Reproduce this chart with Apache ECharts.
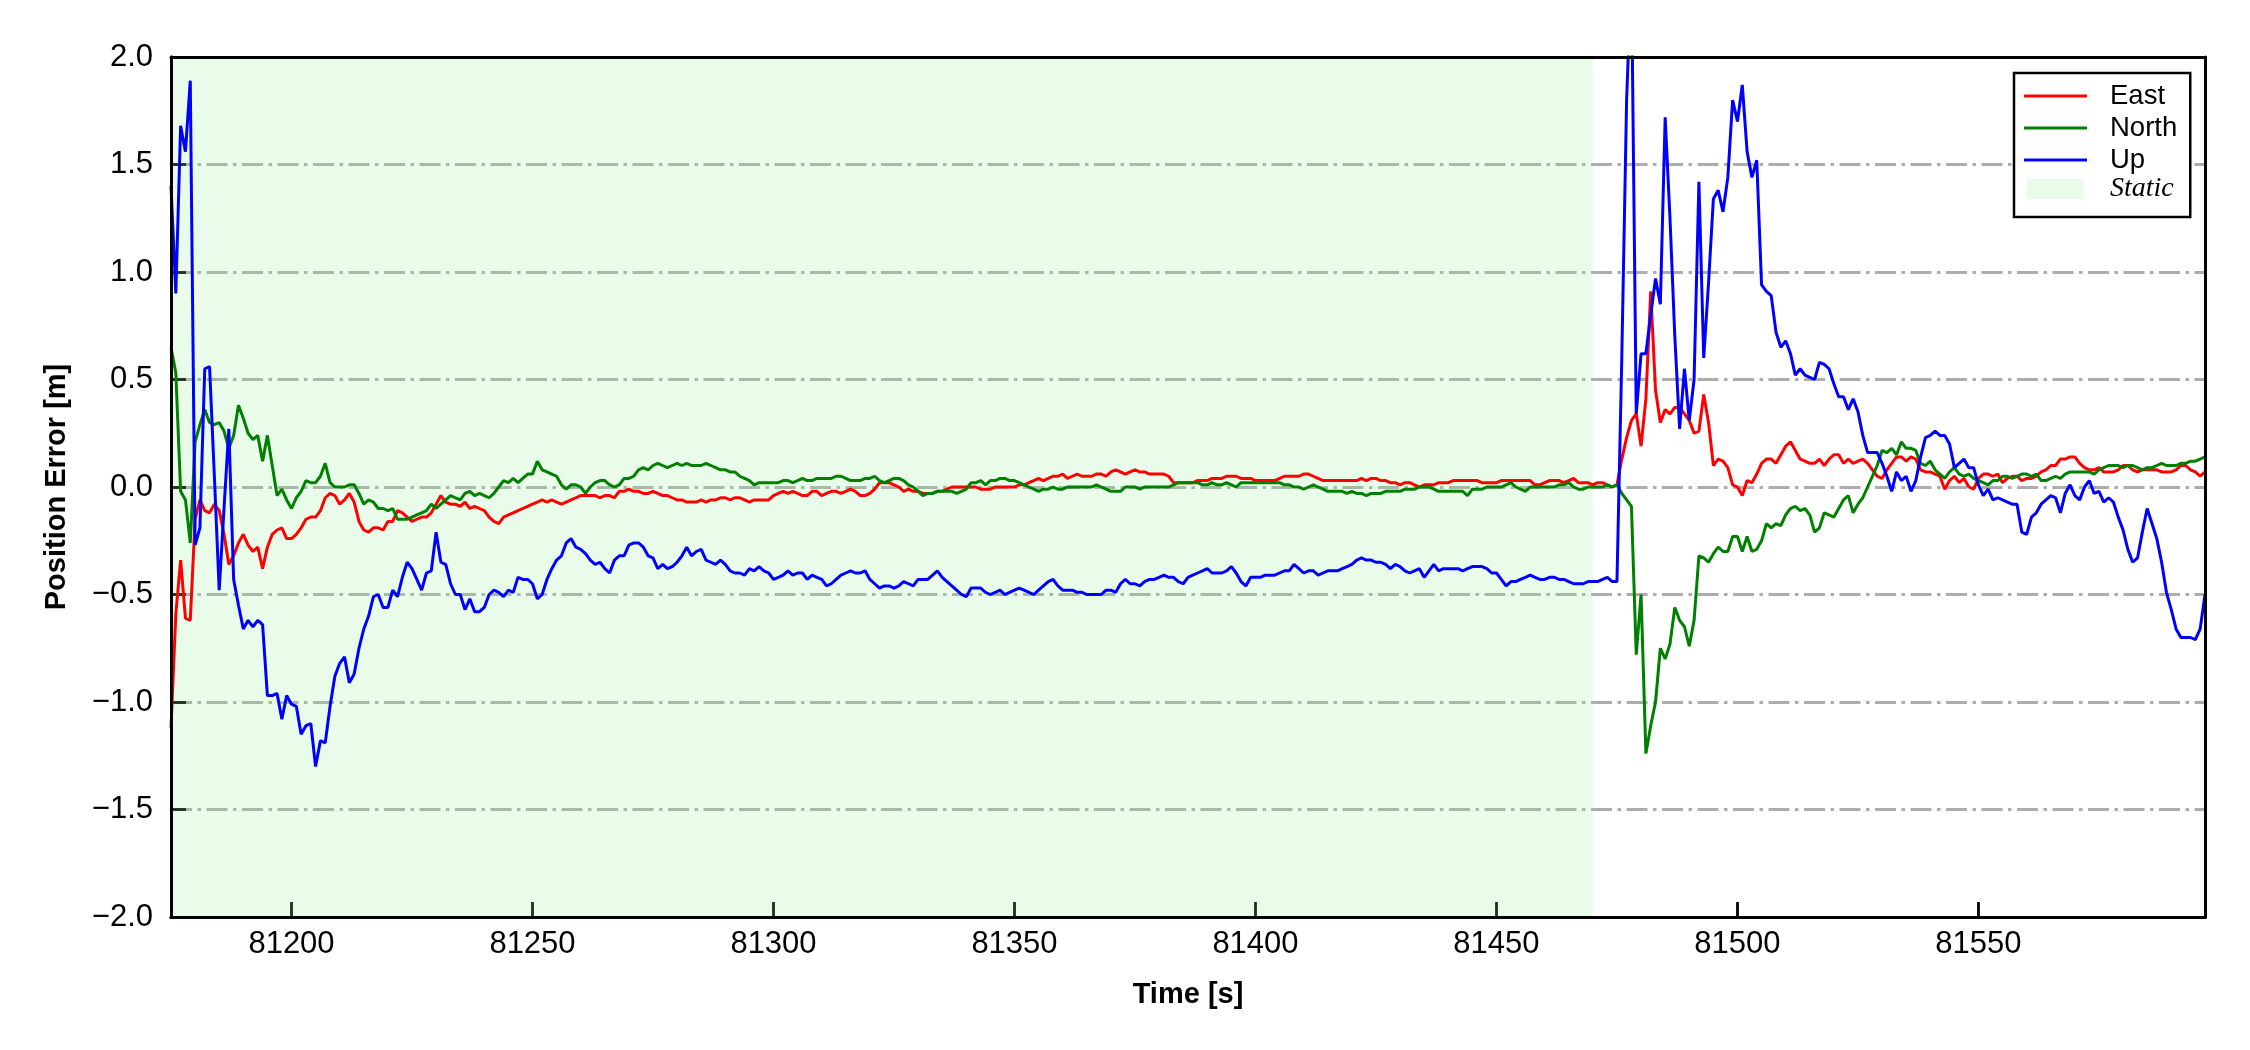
<!DOCTYPE html>
<html>
<head>
<meta charset="utf-8">
<script src="https://cdn.jsdelivr.net/npm/echarts@6/dist/echarts.min.js"></script>
<style>
  html, body { margin: 0; padding: 0; background: #ffffff; }
  #chart { width: 2250px; height: 1050px; }
</style>
</head>
<body>
<div id="chart"></div>
<script>
// ---- Data (1 s sampling starting at timeStart) ----
const timeStart = 81175;
const staticEnd = 81470;
const xMin = 81175;
const xMax = 81597;
const xTicks = [81200, 81250, 81300, 81350, 81400, 81450, 81500, 81550];
const yTicksMin = -2.0, yTicksMax = 2.0, yStep = 0.5;

// East, 81175-81274
const eastA = [-1.12,-0.59,-0.34,-0.61,-0.62,-0.15,-0.06,-0.11,-0.12,-0.08,
 -0.11,-0.22,-0.36,-0.32,-0.26,-0.22,-0.27,-0.30,-0.28,-0.38,
 -0.28,-0.22,-0.20,-0.19,-0.24,-0.24,-0.22,-0.19,-0.15,-0.14,
 -0.14,-0.11,-0.05,-0.03,-0.04,-0.08,-0.06,-0.03,-0.07,-0.16,
 -0.20,-0.21,-0.19,-0.19,-0.20,-0.16,-0.16,-0.11,-0.12,-0.14,
 -0.16,-0.15,-0.14,-0.14,-0.12,-0.08,-0.04,-0.07,-0.08,-0.08,
 -0.09,-0.07,-0.10,-0.09,-0.10,-0.11,-0.14,-0.16,-0.17,-0.14,
 -0.13,-0.12,-0.11,-0.10,-0.09,-0.08,-0.07,-0.06,-0.07,-0.06,
 -0.07,-0.08,-0.07,-0.06,-0.05,-0.04,-0.04,-0.04,-0.04,-0.05,
 -0.04,-0.04,-0.05,-0.02,-0.02,-0.01,-0.02,-0.02,-0.03,-0.03];
// East, 81275-81348
const eastB = [-0.02,-0.03,-0.04,-0.04,-0.05,-0.06,-0.06,-0.07,-0.07,-0.07,
 -0.06,-0.07,-0.06,-0.06,-0.05,-0.05,-0.06,-0.05,-0.05,-0.06,
 -0.07,-0.06,-0.06,-0.06,-0.06,-0.04,-0.03,-0.02,-0.03,-0.02,
 -0.03,-0.04,-0.04,-0.02,-0.02,-0.04,-0.03,-0.02,-0.02,-0.03,
 -0.02,-0.01,-0.02,-0.04,-0.04,-0.03,-0.01,0.02,0.02,0.02,
 0.01,0.00,-0.02,-0.01,-0.02,-0.02,-0.03,-0.03,-0.03,-0.02,
 -0.02,-0.01,0.00,0.00,0.00,0.00,0.00,0.00,-0.01,-0.01,
 -0.01,0.00,0.00,0.00];
// East, 81349-81469
const eastC = [0.00,0.00,0.01,0.01,0.02,0.03,0.04,0.03,0.04,0.05,
 0.05,0.06,0.04,0.05,0.06,0.05,0.05,0.05,0.06,0.06,
 0.05,0.07,0.08,0.07,0.06,0.07,0.08,0.07,0.07,0.06,
 0.06,0.06,0.06,0.05,0.02,0.02,0.02,0.02,0.02,0.03,
 0.03,0.03,0.04,0.04,0.04,0.05,0.05,0.05,0.04,0.04,
 0.04,0.03,0.03,0.03,0.03,0.03,0.04,0.05,0.05,0.05,
 0.05,0.06,0.06,0.05,0.04,0.03,0.03,0.03,0.03,0.03,
 0.03,0.03,0.03,0.04,0.03,0.04,0.04,0.03,0.03,0.02,
 0.02,0.01,0.02,0.02,0.01,0.00,0.01,0.01,0.01,0.02,
 0.02,0.02,0.03,0.03,0.03,0.03,0.03,0.03,0.02,0.02,
 0.02,0.02,0.03,0.03,0.03,0.03,0.03,0.03,0.03,0.01,
 0.01,0.02,0.03,0.03,0.03,0.02,0.03,0.04,0.02,0.02,
 0.02];
// East, 81470-81533
const eastD = [0.01,0.02,0.02,0.01,0.00,0.01,0.13,0.23,0.31,0.34,
 0.19,0.41,0.91,0.45,0.30,0.36,0.34,0.37,0.37,0.34,
 0.31,0.25,0.26,0.43,0.30,0.10,0.13,0.12,0.09,0.01,
 0.00,-0.04,0.03,0.02,0.06,0.11,0.13,0.13,0.11,0.15,
 0.19,0.21,0.17,0.13,0.12,0.11,0.11,0.13,0.10,0.13,
 0.15,0.15,0.11,0.13,0.11,0.12,0.13,0.11,0.08,0.05,
 0.04,0.08,0.11,0.14];
// East, 81534-81597
const eastE = [0.14,0.12,0.14,0.13,0.08,0.07,0.07,0.06,0.05,-0.01,
 0.03,0.05,0.02,0.04,0.00,-0.01,0.04,0.06,0.06,0.05,
 0.06,0.02,0.04,0.05,0.05,0.03,0.04,0.04,0.05,0.07,
 0.08,0.10,0.10,0.13,0.13,0.14,0.14,0.11,0.09,0.08,
 0.08,0.09,0.07,0.07,0.07,0.08,0.10,0.10,0.08,0.07,
 0.08,0.08,0.08,0.08,0.07,0.07,0.07,0.08,0.10,0.10,
 0.08,0.07,0.05,0.07];

// North
const northA = [0.65,0.53,-0.02,-0.06,-0.26,0.21,0.29,0.36,0.30,0.29,
 0.30,0.26,0.18,0.24,0.38,0.32,0.25,0.22,0.24,0.12,
 0.24,0.10,-0.04,-0.01,-0.06,-0.10,-0.05,-0.02,0.03,0.02,
 0.02,0.05,0.11,0.02,0.00,0.00,0.00,0.01,0.01,-0.03,
 -0.08,-0.06,-0.07,-0.10,-0.10,-0.11,-0.10,-0.15,-0.15,-0.15,
 -0.14,-0.13,-0.12,-0.11,-0.08,-0.10,-0.08,-0.06,-0.04,-0.05,
 -0.06,-0.03,-0.02,-0.04,-0.03,-0.04,-0.05,-0.03,0.00,0.03,
 0.02,0.04,0.02,0.04,0.06,0.06,0.12,0.08,0.07,0.06,
 0.05,0.01,-0.01,0.01,0.01,0.00,-0.03,0.00,0.02,0.03,
 0.03,0.01,0.00,0.01,0.04,0.04,0.05,0.08,0.09,0.08];
const northB = [0.10,0.11,0.10,0.09,0.10,0.11,0.10,0.11,0.10,0.10,
 0.10,0.11,0.10,0.09,0.08,0.08,0.07,0.07,0.05,0.04,
 0.03,0.01,0.02,0.02,0.02,0.02,0.02,0.03,0.03,0.02,
 0.03,0.04,0.03,0.03,0.04,0.04,0.04,0.04,0.05,0.05,
 0.04,0.03,0.03,0.03,0.04,0.04,0.05,0.03,0.02,0.03,
 0.04,0.04,0.03,0.01,0.00,-0.02,-0.04,-0.03,-0.03,-0.02,
 -0.02,-0.02,-0.02,-0.03,-0.02,-0.01,0.02,0.02,0.03,0.01,
 0.03,0.03,0.04,0.04];
const northC = [0.03,0.03,0.02,0.01,0.00,-0.01,-0.02,-0.01,-0.01,0.00,
 -0.01,-0.01,0.00,0.00,0.00,0.00,0.00,0.00,0.01,0.00,
 -0.01,-0.02,-0.02,-0.02,0.00,0.00,0.00,-0.01,0.00,0.00,
 0.00,0.00,0.00,0.00,0.01,0.02,0.02,0.02,0.02,0.02,
 0.01,0.01,0.02,0.01,0.01,0.02,0.01,0.00,0.02,0.02,
 0.02,0.02,0.02,0.02,0.02,0.02,0.02,0.01,0.01,0.00,
 0.00,-0.01,0.00,0.01,0.00,-0.01,-0.02,-0.02,-0.02,-0.02,
 -0.03,-0.02,-0.03,-0.03,-0.04,-0.03,-0.03,-0.03,-0.02,-0.02,
 -0.02,-0.02,-0.01,-0.01,-0.01,0.00,0.00,0.00,-0.01,-0.02,
 -0.02,-0.02,-0.02,-0.02,-0.02,-0.04,-0.01,-0.01,-0.01,0.00,
 0.00,0.00,0.00,0.01,0.02,0.00,-0.01,-0.02,0.00,0.00,
 0.00,0.00,0.00,0.00,0.01,0.01,0.02,0.00,-0.01,-0.01,
 0.00];
const northD = [0.00,0.00,0.00,0.01,0.00,0.01,-0.03,-0.06,-0.09,-0.78,
 -0.50,-1.24,-1.11,-1.00,-0.75,-0.80,-0.73,-0.56,-0.62,-0.65,
 -0.74,-0.62,-0.32,-0.33,-0.35,-0.31,-0.28,-0.30,-0.30,-0.23,
 -0.23,-0.30,-0.23,-0.30,-0.29,-0.25,-0.17,-0.19,-0.17,-0.18,
 -0.13,-0.10,-0.09,-0.11,-0.10,-0.13,-0.21,-0.19,-0.12,-0.13,
 -0.14,-0.10,-0.06,-0.04,-0.12,-0.08,-0.05,0.00,0.05,0.10,
 0.17,0.16,0.18,0.15];
const northE = [0.21,0.18,0.18,0.17,0.11,0.10,0.12,0.08,0.06,0.04,
 0.07,0.09,0.06,0.05,0.06,0.04,0.03,0.02,0.01,0.03,
 0.03,0.05,0.05,0.04,0.05,0.06,0.06,0.05,0.06,0.03,
 0.03,0.04,0.05,0.04,0.06,0.07,0.07,0.07,0.07,0.07,
 0.06,0.08,0.09,0.10,0.10,0.10,0.09,0.10,0.10,0.09,
 0.08,0.09,0.09,0.10,0.11,0.10,0.10,0.10,0.11,0.11,
 0.12,0.12,0.13,0.14];

// Up
const upA = [1.40,0.90,1.68,1.56,1.89,-0.27,-0.19,0.55,0.56,0.05,
 -0.48,-0.10,0.27,-0.43,-0.55,-0.66,-0.62,-0.65,-0.62,-0.64,
 -0.97,-0.97,-0.96,-1.08,-0.97,-1.01,-1.02,-1.15,-1.11,-1.10,
 -1.30,-1.18,-1.19,-1.02,-0.88,-0.82,-0.79,-0.91,-0.87,-0.75,
 -0.66,-0.60,-0.51,-0.50,-0.56,-0.56,-0.48,-0.51,-0.42,-0.35,
 -0.38,-0.43,-0.48,-0.40,-0.39,-0.21,-0.35,-0.36,-0.45,-0.50,
 -0.50,-0.57,-0.52,-0.58,-0.58,-0.56,-0.50,-0.48,-0.49,-0.51,
 -0.48,-0.49,-0.42,-0.43,-0.43,-0.45,-0.52,-0.50,-0.43,-0.38,
 -0.34,-0.32,-0.26,-0.24,-0.28,-0.29,-0.31,-0.34,-0.36,-0.35,
 -0.38,-0.40,-0.34,-0.32,-0.32,-0.27,-0.26,-0.26,-0.28,-0.32];
const upB = [-0.33,-0.38,-0.36,-0.38,-0.37,-0.35,-0.32,-0.28,-0.32,-0.30,
 -0.29,-0.34,-0.35,-0.36,-0.34,-0.36,-0.39,-0.40,-0.40,-0.41,
 -0.38,-0.39,-0.37,-0.39,-0.40,-0.43,-0.42,-0.41,-0.39,-0.41,
 -0.40,-0.40,-0.43,-0.41,-0.42,-0.43,-0.46,-0.45,-0.43,-0.41,
 -0.40,-0.39,-0.40,-0.40,-0.39,-0.43,-0.45,-0.47,-0.46,-0.46,
 -0.47,-0.46,-0.44,-0.45,-0.46,-0.43,-0.43,-0.43,-0.41,-0.39,
 -0.42,-0.44,-0.46,-0.48,-0.50,-0.51,-0.47,-0.47,-0.47,-0.49,
 -0.50,-0.49,-0.48,-0.50];
const upC = [-0.49,-0.48,-0.47,-0.48,-0.49,-0.50,-0.48,-0.46,-0.44,-0.43,
 -0.46,-0.48,-0.48,-0.48,-0.49,-0.49,-0.50,-0.50,-0.50,-0.50,
 -0.48,-0.48,-0.49,-0.45,-0.43,-0.45,-0.45,-0.46,-0.44,-0.43,
 -0.43,-0.42,-0.41,-0.42,-0.42,-0.44,-0.45,-0.42,-0.41,-0.40,
 -0.39,-0.38,-0.40,-0.40,-0.40,-0.39,-0.37,-0.40,-0.44,-0.46,
 -0.42,-0.42,-0.42,-0.41,-0.41,-0.41,-0.40,-0.39,-0.39,-0.36,
 -0.38,-0.40,-0.39,-0.39,-0.41,-0.40,-0.39,-0.39,-0.39,-0.38,
 -0.37,-0.36,-0.34,-0.33,-0.34,-0.34,-0.35,-0.35,-0.36,-0.38,
 -0.36,-0.37,-0.39,-0.40,-0.39,-0.38,-0.42,-0.39,-0.36,-0.39,
 -0.38,-0.38,-0.38,-0.38,-0.39,-0.38,-0.37,-0.37,-0.37,-0.38,
 -0.40,-0.40,-0.43,-0.46,-0.44,-0.44,-0.43,-0.42,-0.41,-0.42,
 -0.43,-0.43,-0.42,-0.42,-0.43,-0.43,-0.44,-0.45,-0.45,-0.45,
 -0.44];
const upD = [-0.44,-0.44,-0.43,-0.42,-0.44,-0.44,0.60,1.80,2.40,0.34,
 0.62,0.62,0.80,0.97,0.85,1.72,1.25,0.70,0.27,0.55,
 0.31,0.50,1.42,0.60,0.95,1.34,1.38,1.28,1.44,1.80,
 1.70,1.87,1.56,1.44,1.52,0.94,0.91,0.89,0.72,0.65,
 0.68,0.62,0.52,0.55,0.52,0.51,0.50,0.58,0.57,0.55,
 0.48,0.42,0.42,0.36,0.41,0.35,0.24,0.16,0.16,0.16,
 0.11,0.05,-0.02,0.07];
const upE = [0.03,0.05,-0.02,0.03,0.14,0.23,0.24,0.26,0.24,0.24,
 0.20,0.09,0.11,0.13,0.09,0.09,0.01,-0.04,-0.01,-0.06,
 -0.05,-0.06,-0.07,-0.08,-0.08,-0.21,-0.22,-0.14,-0.12,-0.08,
 -0.06,-0.04,-0.05,-0.12,-0.03,0.01,-0.04,-0.06,0.00,0.03,
 -0.03,-0.02,-0.07,-0.05,-0.07,-0.14,-0.20,-0.29,-0.35,-0.33,
 -0.21,-0.10,-0.17,-0.24,-0.35,-0.49,-0.57,-0.66,-0.70,-0.70,
 -0.70,-0.71,-0.66,-0.50];

// ---- Build ----
const east = eastA.concat(eastB, eastC, eastD, eastE);
const north = northA.concat(northB, northC, northD, northE);
const up = upA.concat(upB, upC, upD, upE);
const toPairs = arr => arr.map((v, i) => [timeStart + i, v]);

const FONT = "'Liberation Sans', Arial, Helvetica, sans-serif";
const fmtY = v => { const s = Number(v).toFixed(1); return s.charAt(0) === '-' ? '\u2212' + s.slice(1) : s; };
const fmtX = v => String(Math.round(v));

const frameLine = { show: true, onZero: false, lineStyle: { color: '#000', width: 3 } };
const tickStyle = { color: '#000', width: 2.8 };
const frameAxisCommon = {
  axisTick: { show: false }, axisLabel: { show: false }, splitLine: { show: false },
  axisLine: frameLine, z: 5
};

const chart = echarts.init(document.getElementById('chart'), null, { renderer: 'canvas' });
chart.setOption({
  animation: false,
  backgroundColor: '#ffffff',
  grid: { left: 171, right: 45, top: 57, bottom: 133, containLabel: false },
  xAxis: [
    {
      type: 'value', min: xMin, max: xMax, position: 'bottom',
      name: 'Time [s]', nameLocation: 'middle', nameGap: 63,
      nameTextStyle: { fontFamily: FONT, fontWeight: 'bold', fontSize: 29, color: '#000' },
      axisLine: frameLine,
      axisTick: { show: true, inside: true, length: 15, customValues: xTicks, lineStyle: tickStyle },
      axisLabel: { show: true, customValues: xTicks, margin: 12, fontFamily: FONT, fontSize: 31, color: '#000', formatter: fmtX },
      splitLine: { show: false }
    },
    Object.assign({ type: 'value', min: xMin, max: xMax, position: 'top' }, frameAxisCommon),
    Object.assign({ type: 'value', min: xMin, max: xMax, position: 'bottom' }, frameAxisCommon)
  ],
  yAxis: [
    {
      type: 'value', min: yTicksMin, max: yTicksMax, interval: yStep, position: 'left',
      name: 'Position Error [m]', nameLocation: 'middle', nameGap: 100,
      nameTextStyle: { fontFamily: FONT, fontWeight: 'bold', fontSize: 29, color: '#000' },
      axisLine: frameLine,
      axisTick: { show: true, inside: true, length: 15, lineStyle: tickStyle },
      axisLabel: { show: true, margin: 18, fontFamily: FONT, fontSize: 31, color: '#000', formatter: fmtY },
      splitLine: { show: true, lineStyle: { color: '#adadad', width: 2.8, type: [21, 5.5, 3.5, 5.5] } }
    },
    Object.assign({ type: 'value', min: yTicksMin, max: yTicksMax, position: 'right' }, frameAxisCommon),
    Object.assign({ type: 'value', min: yTicksMin, max: yTicksMax, position: 'left' }, frameAxisCommon)
  ],
  legend: [
    {
      show: true, orient: 'vertical', left: 2014, top: 73,
      selectedMode: false,
      data: ['East', 'North', 'Up'],
      icon: 'rect', itemWidth: 63, itemHeight: 3.2, itemGap: 4,
      padding: [9, 13, 43, 10],
      borderColor: '#000', borderWidth: 2.5, borderRadius: 0,
      backgroundColor: '#fff',
      textStyle: { fontFamily: FONT, fontSize: 27.5, color: '#000', lineHeight: 27, padding: [0, 0, 0, 18] }
    },
    {
      show: true, orient: 'vertical', left: 2027, top: 175,
      selectedMode: false,
      data: [{ name: 'Static', textStyle: { fontFamily: "'Liberation Serif', 'Times New Roman', serif", fontStyle: 'italic', fontSize: 28, color: '#000' } }],
      icon: 'rect', itemWidth: 57, itemHeight: 20, itemGap: 0,
      padding: 0,
      textStyle: { lineHeight: 27, padding: [0, 0, 0, 21] }
    }
  ],
  series: [
    {
      name: 'Static', type: 'line', data: [], z: 1,
      itemStyle: { color: 'rgba(144,238,144,0.2)' },
      lineStyle: { width: 0 },
      markArea: {
        silent: true,
        itemStyle: { color: 'rgba(144,238,144,0.2)' },
        data: [[{ xAxis: timeStart }, { xAxis: staticEnd }]]
      }
    },
    { name: 'East', type: 'line', data: toPairs(east), showSymbol: false, symbol: 'none', z: 2,
      itemStyle: { color: '#ff0000' }, lineStyle: { color: '#ff0000', width: 3 } },
    { name: 'North', type: 'line', data: toPairs(north), showSymbol: false, symbol: 'none', z: 2,
      itemStyle: { color: '#008000' }, lineStyle: { color: '#008000', width: 3 } },
    { name: 'Up', type: 'line', data: toPairs(up), showSymbol: false, symbol: 'none', z: 2,
      itemStyle: { color: '#0000ff' }, lineStyle: { color: '#0000ff', width: 3 } }
  ]
});
</script>
</body>
</html>
